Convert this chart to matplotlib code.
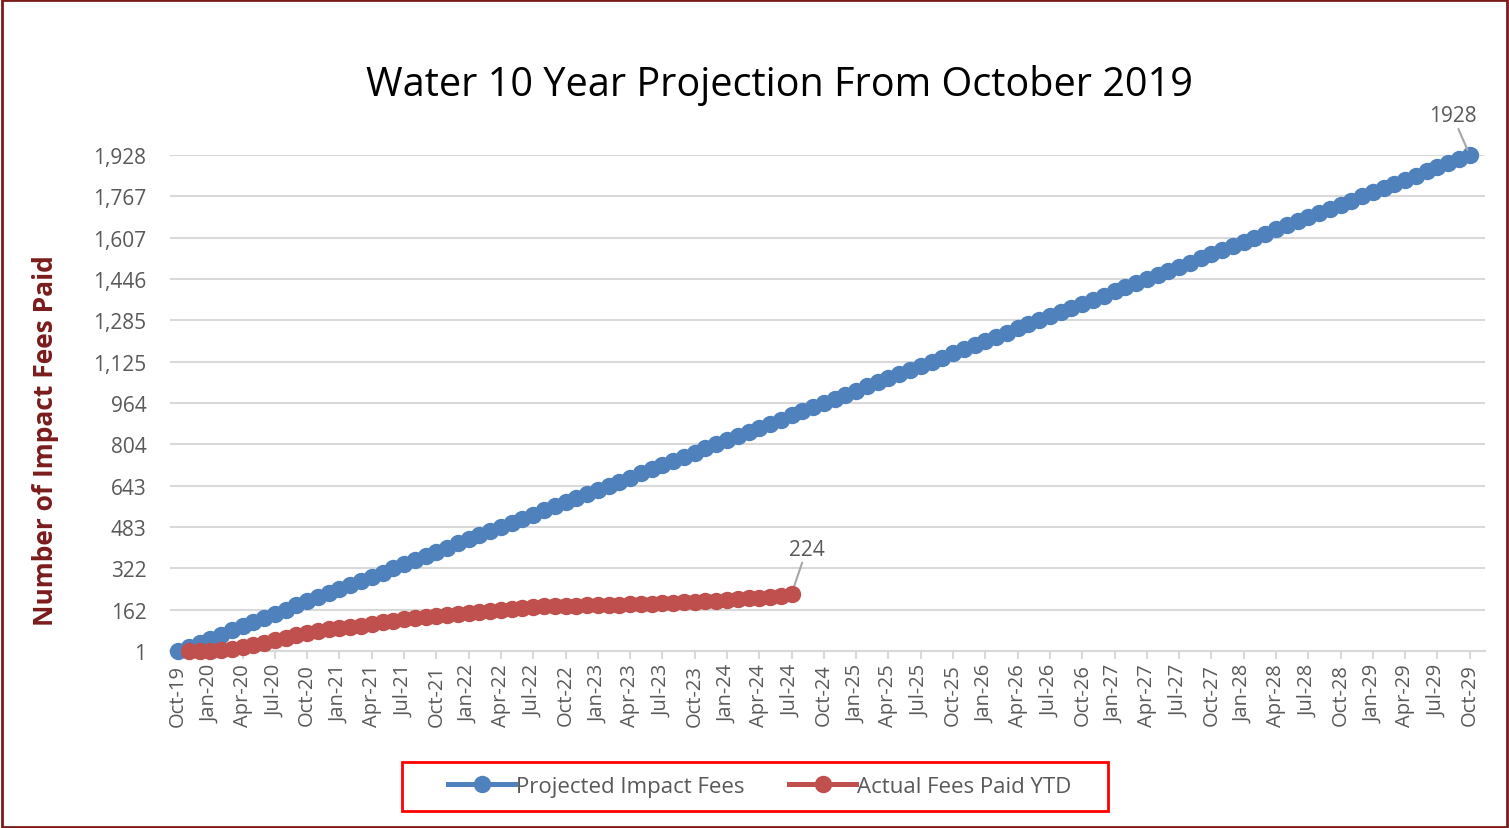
import numpy as np
import matplotlib.pyplot as plt
from matplotlib.patches import Rectangle

# monthly categories Oct-19 .. Oct-29
month_names = ['Jan', 'Feb', 'Mar', 'Apr', 'May', 'Jun',
               'Jul', 'Aug', 'Sep', 'Oct', 'Nov', 'Dec']
months = []
for k in range(121):
    m = (9 + k) % 12
    y = 19 + (9 + k) // 12
    months.append(f"{month_names[m]}-{y}")

# Projected impact fees (Oct-19 .. Oct-29)
projected = [1, 17, 33, 49, 65, 81, 97, 113, 129, 146, 162, 178, 194, 210, 226,
             242, 258, 274, 290, 306, 322, 338, 354, 370, 386, 402, 419, 435,
             451, 467, 483, 499, 515, 531, 547, 563, 579, 595, 611, 627, 643,
             659, 675, 692, 708, 724, 740, 756, 772, 788, 804, 820, 836, 852,
             868, 884, 900, 916, 932, 948, 964, 981, 997, 1013, 1029, 1045,
             1061, 1077, 1093, 1109, 1125, 1141, 1157, 1173, 1189, 1205, 1221,
             1237, 1254, 1270, 1286, 1302, 1318, 1334, 1350, 1366, 1382, 1398,
             1414, 1430, 1446, 1462, 1478, 1494, 1510, 1527, 1543, 1559, 1575,
             1591, 1607, 1623, 1639, 1655, 1671, 1687, 1703, 1719, 1735, 1751,
             1767, 1783, 1800, 1816, 1832, 1848, 1864, 1880, 1896, 1912, 1928]

# Actual fees paid YTD (Nov-19 .. Jul-24)
actual_start = 1
actual = [1, 1, 2, 4, 8, 15, 23, 32, 43, 52, 62, 70, 78, 86, 92, 95, 99, 107,
          114, 118, 124, 130, 134, 138, 141, 143, 147, 151, 155, 159, 164, 168,
          172, 174, 175, 176, 177, 178, 180, 180, 181, 182, 184, 185, 186, 188,
          190, 192, 194, 196, 200, 204, 207, 208, 210, 214, 224]

y_ticks = np.linspace(1, 1928, 13)
y_labels = ['1', '162', '322', '483', '643', '804', '964', '1,125', '1,285',
            '1,446', '1,607', '1,767', '1,928']

blue = '#4F81BD'
red = '#C0504D'
grey = '#595959'
maroon = '#7B1C1C'

plt.rcParams['font.family'] = ['Open Sans', 'DejaVu Sans']

fig = plt.figure(figsize=(15.09, 8.29), dpi=100)
ax = fig.add_axes([0.1127, 0.2135, 0.8713, 0.5983])

x_proj = np.arange(len(projected))
x_act = np.arange(actual_start, actual_start + len(actual))

ax.plot(x_proj, projected, color=blue, lw=3.6, marker='o', ms=11.5,
        label='Projected Impact Fees', zorder=3, clip_on=False)
ax.plot(x_act, actual, color=red, lw=3.6, marker='o', ms=11.5,
        label='Actual Fees Paid YTD', zorder=4, clip_on=False)

ax.set_xlim(-0.74, 121.4)
ax.set_ylim(1, 1928)
ax.set_yticks(y_ticks)
ax.set_yticklabels(y_labels)
ax.set_xticks(x_proj[::3])
ax.set_xticklabels(months[::3], rotation=90)
ax.tick_params(axis='y', length=0, labelsize=15, labelcolor=grey, pad=17)
ax.tick_params(axis='x', length=6, color='#D9D9D9', width=1.5,
               labelsize=14.5, labelcolor=grey, pad=3)
ax.grid(axis='y', color='#D9D9D9', lw=1.5, zorder=0)
ax.set_axisbelow(True)
for s in ['top', 'right', 'left']:
    ax.spines[s].set_visible(False)
ax.spines['bottom'].set_color('#D9D9D9')
ax.spines['bottom'].set_linewidth(1.5)
ax.spines['bottom'].set_zorder(1)

fig.text(0.030, 0.468, 'Number of Impact Fees Paid', rotation=90,
         ha='center', va='center', fontsize=19, fontweight='bold', color=maroon)

fig.text(0.5165, 0.897, 'Water 10 Year Projection From October 2019',
         ha='center', va='center', fontsize=28.5, color='black')

# data labels with leader lines
xe = x_proj[-1]
ax.annotate(str(projected[-1]), xy=(xe, projected[-1]), xytext=(xe - 1.6, 2040),
            ha='center', va='bottom', fontsize=15, color=grey,
            annotation_clip=False,
            arrowprops=dict(arrowstyle='-', color='#A6A6A6', lw=1.5,
                            shrinkA=0, shrinkB=4))
xa = x_act[-1]
ax.annotate(str(actual[-1]), xy=(xa, actual[-1]), xytext=(xa + 1.4, 355),
            ha='center', va='bottom', fontsize=15, color=grey,
            arrowprops=dict(arrowstyle='-', color='#A6A6A6', lw=1.5,
                            shrinkA=0, shrinkB=4))

leg = fig.legend(loc='center', bbox_to_anchor=(0.5036, 0.050), ncol=2,
                 fontsize=16, frameon=False, handlelength=3.0,
                 handletextpad=0.05, columnspacing=2.0, labelcolor=grey)

# red box round the legend
fig.patches.append(Rectangle((0.2664, 0.0205), 0.4679, 0.0591,
                             transform=fig.transFigure, fill=False,
                             edgecolor='#FF0000', lw=2))

# outer border
fig.patches.append(Rectangle((0.001, 0.001), 0.998, 0.998, transform=fig.transFigure,
                             fill=False, edgecolor=maroon, lw=2))

fig.savefig('out.png', dpi=100)
